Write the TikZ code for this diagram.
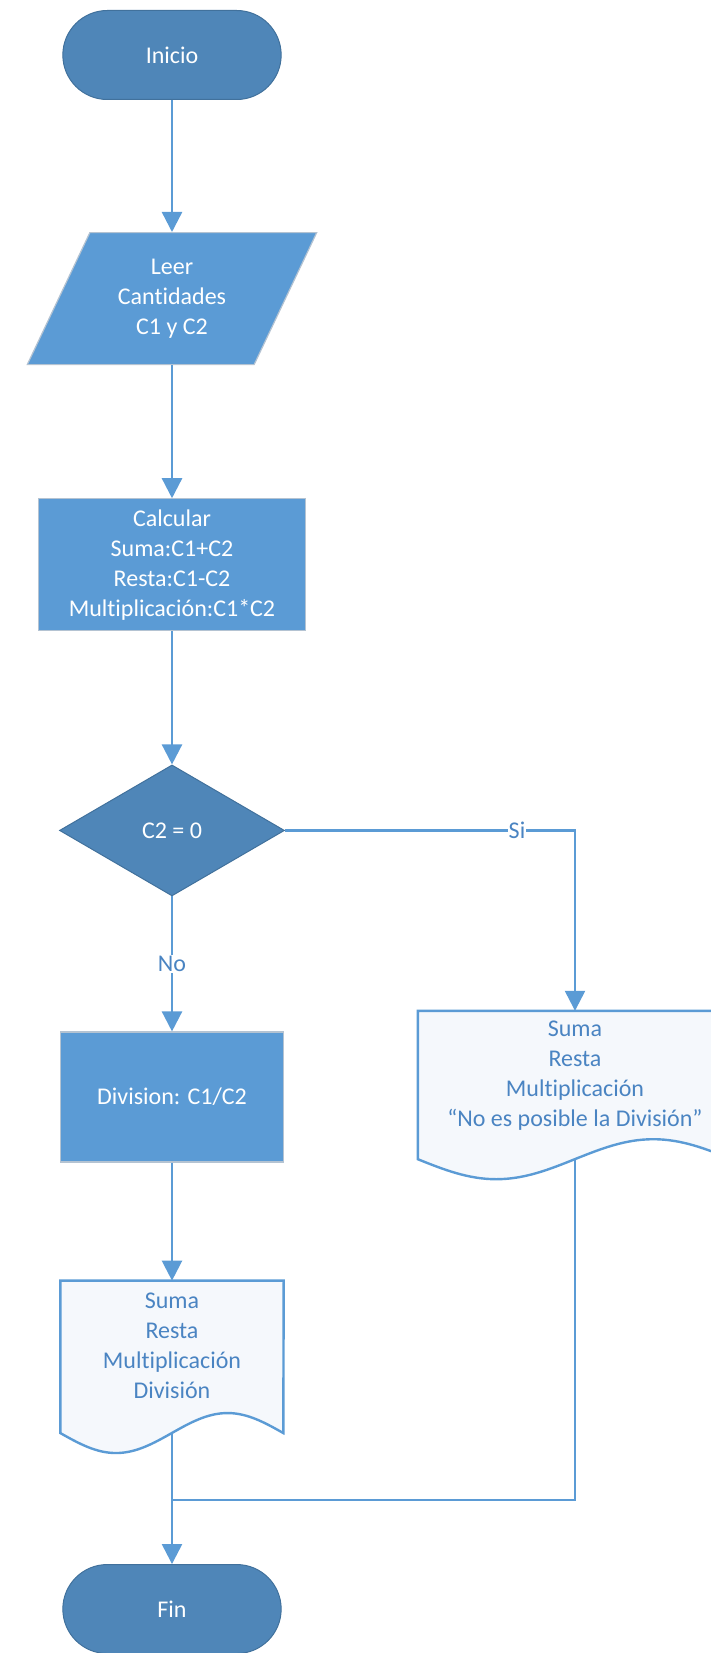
\documentclass[tikz,border=0pt]{standalone}
\usepackage{fontspec}
\setmainfont{Carlito}[Ligatures=NoCommon]
\usetikzlibrary{arrows.meta, positioning, shapes.geometric, shapes.misc, backgrounds}
\definecolor{flowDark}{HTML}{4F86B8}
\definecolor{flowEdge}{HTML}{41719C}
\definecolor{flowBlue}{HTML}{5B9BD5}
\definecolor{flowGray}{HTML}{B4C3D2}
\definecolor{docFill}{HTML}{F5F8FC}
\definecolor{docText}{HTML}{4A84C2}
\newcommand{\flowfont}{\fontsize{24}{30}\selectfont}
\tikzset{
  arrowB/.style={-{Triangle[length=20pt, width=20pt]}, flowBlue, line width=2.4pt},
  lineB/.style={flowBlue, line width=2.4pt},
  termBox/.style={rounded rectangle, draw=flowEdge, fill=flowDark, text=white,
                  font=\flowfont, line width=1pt, minimum width=225pt, minimum height=89pt},
  ioBox/.style={trapezium, trapezium left angle=63, trapezium right angle=117,
                trapezium stretches=true, draw=flowGray, fill=flowBlue, text=white,
                align=center, font=\flowfont, line width=1.2pt,
                minimum width=290pt, minimum height=132pt},
  procBox/.style={rectangle, draw=flowGray, fill=flowBlue, text=white, align=center,
                  font=\flowfont, line width=1.2pt, inner sep=4pt, minimum height=132pt},
  decBox/.style={diamond, draw=flowEdge, fill=flowDark, text=white, font=\flowfont,
                 line width=1pt, inner sep=0pt, minimum width=225pt, minimum height=131pt},
  docBox/.style={rectangle, text=docText, align=center, font=\flowfont, text depth=22pt},
  docLine/.style={draw=flowBlue, fill=docFill, line width=2.4pt},
  tagB/.style={fill=white, text=docText, font=\flowfont, inner sep=1pt},
}
\begin{document}
\begin{tikzpicture}[x=1pt, y=1pt]
  \useasboundingbox (0,0) rectangle (711,-1653);
  \clip (0,0) rectangle (711,-1653);
  \node[termBox] (ini) at (172,-55) {Inicio};
  \node[ioBox, below=132pt of ini] (leer) {Leer\\Cantidades\\C1 y C2};
  \node[procBox, minimum width=267pt, below=133pt of leer] (calc)
    {Calcular\\Suma:C1+C2\\Resta:C1-C2\\Multiplicación:C1*C2};
  \node[decBox, below=133pt of calc] (dec) {C2 = 0};
  \node[procBox, minimum width=223pt, minimum height=130pt, below=135pt of dec] (div) {Division: C1/C2};
  \node[docBox, minimum width=223pt, minimum height=152pt, below=118pt of div] (docL)
    {Suma\\Resta\\Multiplicación\\División};
  \node[termBox, below=131pt of docL] (fin) {Fin};
  \node[docBox, minimum width=314pt, minimum height=148pt] (docR) at (575,-1085)
    {Suma\\Resta\\Multiplicación\\“No es posible la División”};
  \begin{scope}[on background layer]
    \draw[docLine] (docL.south west) sin ++(55.75,-20) cos ++(55.75,20) sin ++(55.75,20)
      cos ++(55.75,-20) -- (docL.north east) -- (docL.north west) -- cycle;
    \draw[docLine] (docR.south west) sin ++(78.5,-20) cos ++(78.5,20) sin ++(78.5,20)
      cos ++(78.5,-20) -- (docR.north east) -- (docR.north west) -- cycle;
  \end{scope}
  \coordinate (join) at (docL.south |- 0,-1500);
  \draw[arrowB] (ini.south)--(leer.north); \draw[arrowB] (leer.south)--(calc.north);
  \draw[arrowB] (calc.south)--(dec.north);
  \draw[arrowB] (dec.south)--(div.north) node[midway, tagB] {No};
  \draw[arrowB] (dec.east) -| (docR.north) node[pos=0.4, tagB] {Si};
  \draw[arrowB] (div.south)--(docL.north);
  \draw[lineB] (docR.south) |- (join);
  \draw[arrowB] (docL.south)--(fin.north);
\end{tikzpicture}
\end{document}
